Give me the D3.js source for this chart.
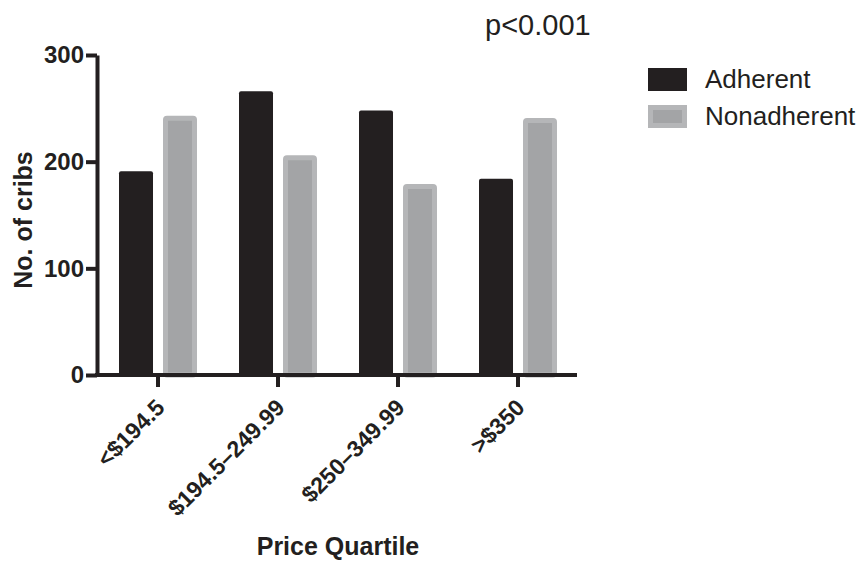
<!DOCTYPE html>
<html><head><meta charset="utf-8">
<script src="https://cdn.jsdelivr.net/npm/d3@7"></script>
<style>
body{margin:0;background:#fff;}
svg{display:block;font-family:"Liberation Sans",Arial,sans-serif;}
</style></head>
<body>
<svg id="chart" width="863" height="561"></svg>
<script>
const categories = ["<$194.5", "$194.5\u2013249.99", "$250\u2013349.99", ">$350"];
const seriesNames = ["Adherent", "Nonadherent"];
const adherent = [191, 266, 248, 184];
const nonadherent = [243, 206, 179, 241];
const yTicks = [0, 100, 200, 300];

const svg = d3.select("#chart");
const ink = "#231f20";
const grayFill = "#a3a4a6", grayStroke = "#b5b6b8";

const x0 = d3.scaleBand().domain(categories).range([98, 578]).paddingInner(0.35).paddingOuter(0.175);
const x1 = d3.scaleBand().domain(seriesNames).range([0, x0.bandwidth()]).paddingInner(0.227);
const y = d3.scaleLinear().domain([0, 300]).range([375, 55]);

const data = categories.map((c, i) => ({cat: c, vals: [adherent[i], nonadherent[i]]}));

// bars
const g = svg.append("g");
data.forEach(d => {
  d.vals.forEach((v, j) => {
    const bx = x0(d.cat) + x1(seriesNames[j]);
    const bw = x1.bandwidth();
    if (j === 0) {
      g.append("rect").attr("x", bx).attr("y", y(v)).attr("width", bw).attr("height", y(0) - y(v))
        .attr("rx", 2).attr("fill", ink);
    } else {
      g.append("rect").attr("x", bx + 2.5).attr("y", y(v) + 2.5).attr("width", bw - 5).attr("height", y(0) - y(v) - 2.5)
        .attr("rx", 1.5).attr("fill", grayFill).attr("stroke", grayStroke).attr("stroke-width", 5);
    }
  });
});

// y axis
const yAxis = svg.append("g").attr("transform", "translate(97,0)")
  .call(d3.axisLeft(y).tickValues(yTicks).tickSize(11).tickSizeOuter(0).tickPadding(2));
yAxis.selectAll("path,line").attr("stroke", ink).attr("stroke-width", 4);
yAxis.selectAll("text").attr("fill", ink).style("font-size", "24px").style("font-weight", "bold")
  .style("font-family", "'Liberation Sans',Arial,sans-serif");

// x axis
const xAxis = svg.append("g").attr("transform", "translate(0,375)")
  .call(d3.axisBottom(x0).tickSize(12).tickSizeOuter(0));
xAxis.select(".domain").attr("d", "M95,0H577");
xAxis.selectAll("path,line").attr("stroke", ink).attr("stroke-width", 4);
xAxis.selectAll("text")
  .attr("fill", ink).style("font-size", "23px").style("font-weight", "bold")
  .style("font-family", "'Liberation Sans',Arial,sans-serif")
  .attr("text-anchor", "end")
  .attr("y", 0).attr("dy", 0)
  .attr("transform", "translate(8,34) rotate(-45)");

// axis titles
svg.append("text").attr("transform", "translate(32,220) rotate(-90)")
  .attr("text-anchor", "middle").attr("fill", ink)
  .style("font-size", "25px").style("font-weight", "bold").text("No. of cribs");
svg.append("text").attr("x", 338).attr("y", 555)
  .attr("text-anchor", "middle").attr("fill", ink)
  .style("font-size", "25px").style("font-weight", "bold").text("Price Quartile");

// p value
svg.append("text").attr("x", 485).attr("y", 35).attr("fill", ink)
  .style("font-size", "29px").text("p<0.001");

// legend
const leg = svg.append("g");
seriesNames.forEach((s, i) => {
  const ly = 68 + i * 37;
  if (i === 0) {
    leg.append("rect").attr("x", 648).attr("y", ly).attr("width", 39).attr("height", 23).attr("fill", ink);
  } else {
    leg.append("rect").attr("x", 650.5).attr("y", ly + 2.5).attr("width", 34).attr("height", 18)
      .attr("fill", grayFill).attr("stroke", grayStroke).attr("stroke-width", 5);
  }
  leg.append("text").attr("x", 705).attr("y", ly + 20).attr("fill", ink)
    .style("font-size", "26px").text(s);
});
</script>
</body></html>
